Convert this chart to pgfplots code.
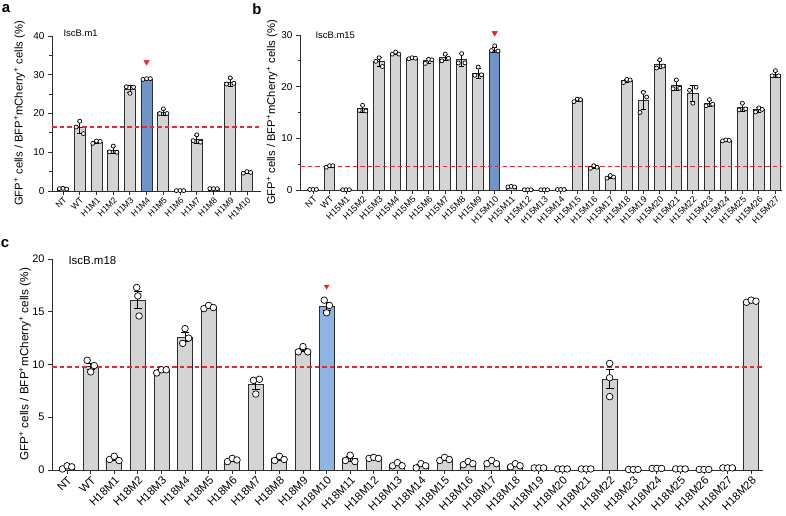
\documentclass[border=0pt]{standalone}
\usepackage{pgfplots}
\pgfplotsset{compat=1.18}
\usepackage{pgfplotstable}
\usepackage{fontspec}
\setmainfont{Liberation Sans}

\definecolor{bargray}{RGB}{212,212,212}
\definecolor{edge}{RGB}{45,45,45}
\definecolor{blueA}{RGB}{112,148,200}
\definecolor{blueC}{RGB}{141,180,227}
\definecolor{dashred}{RGB}{225,45,55}
\definecolor{tri}{RGB}{236,38,38}

\pgfplotstableread{
x y e
0 0.6 0.1
1 16.4 1.6
2 12.6 0.3
3 10.5 0.9
4 26.3 0.9
5 28.9 0.1
6 20.3 0.8
7 0.1 0.05
8 13.4 1.0
9 0.6 0.05
10 28.1 1.0
11 4.8 0.2
}\barsA

\pgfplotstableread{
x y
-0.22 0.6
0 0.7
0.22 0.5
0.78 16.5
1 18.0
1.22 14.8
1.78 12.3
2 12.9
2.22 12.8
2.78 10.1
3 11.6
3.22 10.0
3.78 26.9
4 25.2
4.22 26.8
4.78 28.8
5 29.0
5.22 29.0
5.78 20.0
6 21.2
6.22 20.0
6.78 0.1
7 0.1
7.22 0.1
7.78 13.0
8 14.5
8.22 12.6
8.78 0.6
9 0.6
9.22 0.6
9.78 27.6
10 29.2
10.22 27.8
10.78 4.6
11 5.0
11.22 4.8
}\ptsA

\pgfplotstableread{
x y e
0 0.1 0.02
1 4.6 0.15
2 0.05 0.02
3 15.7 0.6
4 24.8 0.8
5 26.4 0.2
6 25.5 0.1
7 25.0 0.4
8 25.6 0.6
9 25.2 1.2
10 22.6 1.0
11 27.1 0.5
12 0.6 0.05
13 0.05 0.02
14 0.05 0.02
15 0.1 0.02
16 17.4 0.3
17 4.4 0.2
18 2.5 0.2
19 21.2 0.3
20 17.3 1.7
21 24.3 0.8
22 20.2 1.0
23 18.7 1.6
24 16.8 0.6
25 9.6 0.1
26 16.0 0.7
27 15.5 0.4
28 22.4 0.6
}\barsB

\pgfplotstableread{
x y
-0.2 0.1
0 0.1
0.2 0.1
0.8 4.4
1 4.7
1.2 4.7
1.8 0.05
2 0.05
2.2 0.05
2.8 15.4
3 16.4
3.2 15.3
3.8 24.9
4 25.6
4.2 23.9
4.8 26.3
5 26.7
5.2 26.3
5.8 25.4
6 25.6
6.2 25.5
6.8 24.5
7 25.3
7.2 25.2
7.8 25.0
8 26.3
8.2 25.5
8.8 24.6
9 26.4
9.2 24.6
9.8 22.2
10 23.8
10.2 22.3
10.8 27.0
11 27.9
11.2 26.9
11.8 0.6
12 0.7
12.2 0.6
12.8 0.05
13 0.05
13.2 0.05
13.8 0.05
14 0.05
14.2 0.05
14.8 0.1
15 0.1
15.2 0.1
15.8 17.1
16 17.6
16.2 17.5
16.8 4.2
17 4.7
17.2 4.4
17.8 2.3
18 2.8
18.2 2.5
18.8 20.8
19 21.4
19.2 21.3
19.8 15.0
20 18.9
20.2 18.0
20.8 23.6
21 25.2
21.2 24.0
21.8 19.6
22 21.3
22.2 19.7
22.8 19.3
23 16.8
23.2 19.9
23.8 16.3
24 17.5
24.2 16.6
24.8 9.5
25 9.7
25.2 9.6
25.8 15.5
26 16.8
26.2 15.7
26.8 15.1
27 15.9
27.2 15.6
27.8 22.1
28 23.1
28.2 22.1
}\ptsB

\pgfplotstableread{
x y e
0 0.25 0.1
1 9.8 0.3
2 1.05 0.1
3 16.1 0.8
4 9.4 0.1
5 12.6 0.4
6 15.45 0.1
7 0.95 0.1
8 8.1 0.45
9 1.05 0.1
10 11.35 0.15
11 15.5 0.35
12 1.05 0.2
13 1.15 0.05
14 0.5 0.1
15 0.4 0.1
16 1.0 0.1
17 0.6 0.1
18 0.7 0.1
19 0.45 0.1
20 0.2 0.02
21 0.1 0.02
22 0.1 0.02
23 8.6 0.9
24 0.05 0.02
25 0.15 0.02
26 0.1 0.02
27 0.05 0.02
28 0.2 0.02
29 16.0 0.05
}\barsC

\pgfplotstableread{
x y
-0.2 0.1
0 0.4
0.2 0.3
0.85 10.4
1 9.3
1.15 9.9
1.8 1.0
2 1.3
2.2 0.9
2.95 17.3
3 16.5
3.05 14.6
3.8 9.2
4 9.5
4.2 9.5
4.9 12.0
5 13.4
5.15 12.5
5.8 15.3
6 15.6
6.2 15.4
6.8 0.8
7 1.1
7.2 0.95
7.9 8.5
8 7.2
8.15 8.6
8.8 0.9
9 1.3
9.2 1.0
9.8 11.2
10 11.7
10.2 11.2
10.9 16.1
11 14.9
11.12 15.6
11.8 0.9
12 1.4
12.2 0.8
12.8 1.1
13 1.2
13.2 1.1
13.8 0.4
14 0.7
14.2 0.4
14.8 0.2
15 0.6
15.2 0.4
15.8 0.9
16 1.2
16.2 1.0
16.8 0.5
17 0.8
17.2 0.6
17.8 0.6
18 0.9
18.2 0.6
18.8 0.3
19 0.6
19.2 0.4
19.8 0.2
20 0.2
20.2 0.2
20.8 0.1
21 0.1
21.2 0.1
21.8 0.1
22 0.1
22.2 0.1
23 10.1
23 8.75
23 6.95
23.8 0.05
24 0.05
24.2 0.05
24.8 0.15
25 0.15
25.2 0.15
25.8 0.1
26 0.1
26.2 0.1
26.8 0.05
27 0.05
27.2 0.05
27.8 0.2
28 0.2
28.2 0.2
28.8 15.9
29 16.1
29.2 16.0
}\ptsC

\pgfplotsset{
  /pgf/number format/assume math mode=true,
  panel/.style={
    scale only axis,
    axis x line*=bottom, axis y line*=left,
    axis line style={edge, line width=0.9bp},
    tick align=outside,
    major tick length=4bp, minor tick length=2.5bp,
    every tick/.style={edge, line width=0.9bp},
    ymin=0,
    clip=false,
    ylabel={GFP\textsuperscript{+} cells / BFP\textsuperscript{+}mCherry\textsuperscript{+} cells (\%)},
  },
  graybar/.style={ybar, bar shift=0pt, fill=bargray, draw=edge, line width=0.9bp},
  errs/.style={draw=none, mark=none, forget plot,
    error bars/.cd, y dir=both, y explicit,
    error bar style={black, line width=0.8bp},
    error mark options={rotate=90, mark size=#1, line width=0.8bp, black}},
  pts/.style={only marks, mark=*, mark size=#1,
    mark options={fill=white, draw=black, line width=0.7bp}},
  arrowhead/.style={only marks, mark=triangle*, mark size=3.2bp,
    mark options={rotate=180, fill=tri, draw=tri}},
}

\begin{document}
\begin{tikzpicture}
\path[use as bounding box] (0,0) rectangle (786bp,-516bp);

% ---------- panel a ----------
\begin{axis}[panel,
  at={(52bp,-191bp)}, anchor=south west,
  width=209bp, height=155bp,
  xmin=-0.66, xmax=11.84, ymax=40,
  ytick={0,10,20,30,40}, minor ytick={5,15,25,35},
  xtick={0,...,11},
  xticklabels={NT,WT,H1M1,H1M2,H1M3,H1M4,H1M5,H1M6,H1M7,H1M8,H1M9,H1M10},
  xticklabel style={rotate=45, anchor=north east, inner sep=1pt, font=\fontsize{8.6}{9}\selectfont},
  yticklabel style={font=\fontsize{10}{12}\selectfont},
  ylabel style={at={(axis description cs:-0.155,0.5)}, anchor=center, font=\fontsize{11.3}{12}\selectfont},
]
\addplot[graybar, bar width=11bp] table[x=x,y=y] {\barsA};
\addplot[ybar, bar shift=0pt, bar width=11bp, fill=blueA, draw=edge, line width=0.9bp] coordinates {(5,28.9)};
\addplot[color=dashred, line width=1.6bp, dash pattern=on 4.5bp off 3bp, mark=none] coordinates {(-0.66,16.45) (11.84,16.45)};
\addplot[errs=2.5bp] table[x=x,y=y,y error=e] {\barsA};
\addplot[pts=2bp] table[x=x,y=y] {\ptsA};
\addplot[arrowhead] coordinates {(5,33.3)};
\end{axis}

% ---------- panel b ----------
\begin{axis}[panel,
  at={(300bp,-190bp)}, anchor=south west,
  width=482bp, height=155bp,
  xmin=-0.79, xmax=28.4, ymax=30,
  ytick={0,10,20,30}, minor ytick={5,15,25},
  xtick={0,...,28},
  xticklabels={NT,WT,H15M1,H15M2,H15M3,H15M4,H15M5,H15M6,H15M7,H15M8,H15M9,H15M10,H15M11,H15M12,H15M13,H15M14,H15M15,H15M16,H15M17,H15M18,H15M19,H15M20,H15M21,H15M22,H15M23,H15M24,H15M25,H15M26,H15M27},
  xticklabel style={rotate=45, anchor=north east, inner sep=1pt, font=\fontsize{9}{9}\selectfont},
  yticklabel style={font=\fontsize{10}{12}\selectfont},
  ylabel style={at={(axis description cs:-0.058,0.5)}, anchor=center, font=\fontsize{11.3}{12}\selectfont},
]
\addplot[graybar, bar width=10.5bp] table[x=x,y=y] {\barsB};
\addplot[ybar, bar shift=0pt, bar width=10.5bp, fill=blueA, draw=edge, line width=0.9bp] coordinates {(11,27.1)};
\addplot[color=dashred, line width=1.2bp, dash pattern=on 4.5bp off 3bp, mark=none] coordinates {(-0.79,4.548) (28.4,4.548)};
\addplot[errs=2.5bp] table[x=x,y=y,y error=e] {\barsB};
\addplot[pts=2bp] table[x=x,y=y] {\ptsB};
\addplot[arrowhead] coordinates {(11,30.4)};
\end{axis}

% ---------- panel c ----------
\begin{axis}[panel,
  at={(52bp,-470bp)}, anchor=south west,
  width=711bp, height=211bp,
  xmin=-0.64, xmax=29.5, ymax=20,
  ytick={0,5,10,15,20},
  xtick={0,...,29},
  xticklabels={NT,WT,H18M1,H18M2,H18M3,H18M4,H18M5,H18M6,H18M7,H18M8,H18M9,H18M10,H18M11,H18M12,H18M13,H18M14,H18M15,H18M16,H18M17,H18M18,H18M19,H18M20,H18M21,H18M22,H18M23,H18M24,H18M25,H18M26,H18M27,H18M28},
  xticklabel style={rotate=45, anchor=north east, inner sep=1pt, font=\fontsize{11.3}{12}\selectfont},
  yticklabel style={font=\fontsize{11}{12}\selectfont},
  ylabel style={at={(axis description cs:-0.038,0.5)}, anchor=center, font=\fontsize{11.8}{12}\selectfont},
]
\addplot[graybar, bar width=15bp] table[x=x,y=y] {\barsC};
\addplot[ybar, bar shift=0pt, bar width=15bp, fill=blueC, draw=edge, line width=0.9bp] coordinates {(11,15.5)};
\addplot[color=dashred, line width=1.4bp, dash pattern=on 4.5bp off 3bp, mark=none] coordinates {(-0.64,9.76) (29.5,9.76)};
\addplot[errs=4bp] table[x=x,y=y,y error=e] {\barsC};
\addplot[pts=3.3bp] table[x=x,y=y] {\ptsC};
\addplot[arrowhead, mark size=2.8bp] coordinates {(11,17.4)};
\end{axis}

% panel letters and titles
\node[font=\bfseries\fontsize{15}{15}\selectfont] at (6bp,-9bp) {a};
\node[font=\bfseries\fontsize{15}{15}\selectfont] at (257bp,-9bp) {b};
\node[font=\bfseries\fontsize{15}{15}\selectfont] at (5bp,-244bp) {c};
\node[font=\fontsize{9.5}{12}\selectfont, anchor=west] at (60bp,-33bp) {IscB.m1};
\node[font=\fontsize{9.5}{12}\selectfont, anchor=west] at (312bp,-35bp) {IscB.m15};
\node[font=\fontsize{11.5}{12}\selectfont, anchor=west] at (65bp,-261bp) {IscB.m18};
\end{tikzpicture}
\end{document}
